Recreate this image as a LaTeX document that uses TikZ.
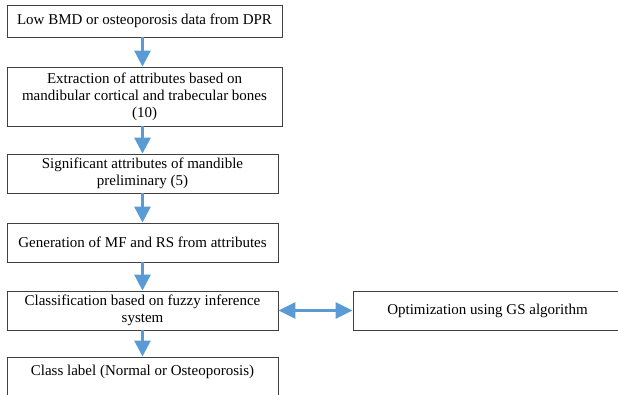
\documentclass[tikz,border=0pt]{standalone}
\usepackage{fontspec}
\setmainfont{Liberation Serif}
\usetikzlibrary{arrows.meta}
\definecolor{arrowblue}{HTML}{5B9BD5}
\definecolor{boxline}{HTML}{404040}
\begin{document}
\begin{tikzpicture}[x=1pt,y=1pt,
  box/.style={draw=boxline,line width=0.9pt,rectangle,inner sep=0pt,align=center,
    font=\fontsize{15}{17}\selectfont},
  flow/.style={draw=arrowblue,line width=3pt,-{Triangle[length=16pt,width=16pt]}},
  flow2/.style={draw=arrowblue,line width=3pt,{Triangle[length=17pt,width=16pt]}-{Triangle[length=17pt,width=16pt]}}]
\useasboundingbox (0,0) rectangle (618,-394);
\fill[white] (0,0) rectangle (618,-394);
\node[box,minimum width=275pt,minimum height=32pt] (b1) at (144.5,-21) {Low BMD or osteoporosis data from DPR};
\node[box,minimum width=275pt,minimum height=59pt] (b2) at (144.5,-96.5) {Extraction of attributes based on\\mandibular cortical and trabecular bones\\(10)};
\node[box,minimum width=271pt,minimum height=39pt] (b3) at (142.5,-173.5) {Significant attributes of mandible\\preliminary (5)};
\node[box,minimum width=271pt,minimum height=39pt] (b4) at (142.5,-242.5) {Generation of MF and RS from attributes};
\node[box,minimum width=271pt,minimum height=39pt] (b5) at (142.5,-310.5) {Classification based on fuzzy inference\\system};
\node[box,minimum width=271pt,text height=19pt,text depth=25pt,anchor=north] (b6) at (142.5,-356.5) {Class label (Normal or Osteoporosis)};
\node[box,minimum width=269pt,minimum height=39pt] (b7) at (487.5,-310.5) {Optimization using GS algorithm};
\coordinate (ax) at (142.5,0);
\draw[flow] (b1.south -| ax) -- (b2.north -| ax);
\draw[flow] (b2.south -| ax) -- (b3.north -| ax);
\draw[flow] (b3.south -| ax) -- (b4.north -| ax);
\draw[flow] (b4.south -| ax) -- (b5.north -| ax);
\draw[flow] (b5.south -| ax) -- (b6.north -| ax);
\draw[flow2] (b5.east) -- (b7.west);
\end{tikzpicture}
\end{document}
